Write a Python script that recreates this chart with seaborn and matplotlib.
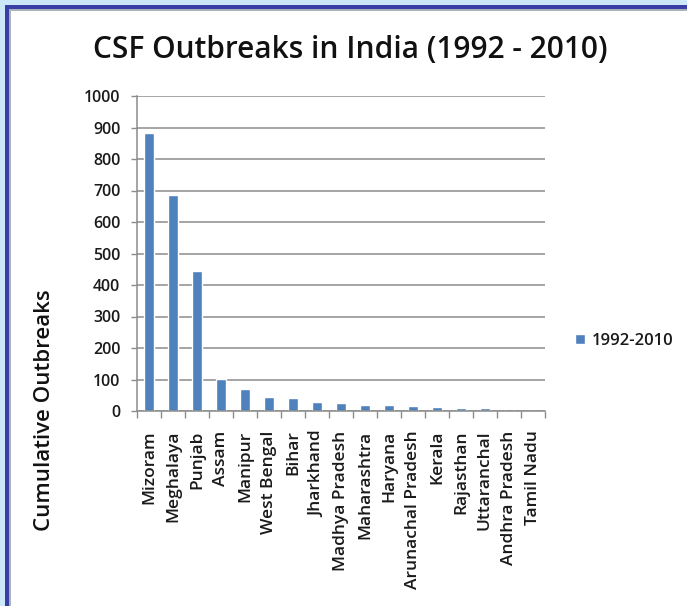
import matplotlib as mpl
mpl.use("Agg")
import matplotlib.pyplot as plt
import seaborn as sns
from matplotlib.patches import Rectangle
from matplotlib.ticker import FixedLocator

# Data
states = ["Mizoram", "Meghalaya", "Punjab", "Assam", "Manipur", "West Bengal",
          "Bihar", "Jharkhand", "Madhya Pradesh", "Maharashtra", "Haryana",
          "Arunachal Pradesh", "Kerala", "Rajasthan", "Uttaranchal",
          "Andhra Pradesh", "Tamil Nadu"]
outbreaks = [882, 687, 443, 101, 71, 43, 40, 29, 24, 18, 18, 17, 13, 8, 8, 5, 1]
series_name = "1992-2010"

BAR_COLOR = "#4f81bd"
GRID_COLOR = "#8c8c8c"
TEXT_COLOR = "#1a1a1a"

sns.set_theme(style="white")
plt.rcParams["font.family"] = ["Open Sans", "DejaVu Sans"]

W, H = 687, 606
fig = plt.figure(figsize=(W / 100, H / 100), dpi=100)
fig.patch.set_facecolor("#cde8f8")

# slide style frame: blue border, grey inner line, white panel
fig.add_artist(Rectangle((5 / W, 0), 1, 1 - 5 / H, transform=fig.transFigure,
                         facecolor="#3a3fa6", edgecolor="none", zorder=-3))
fig.add_artist(Rectangle((9 / W, 0), 1, 1 - 9 / H, transform=fig.transFigure,
                         facecolor="#a9b3b8", edgecolor="none", zorder=-2))
fig.add_artist(Rectangle((11 / W, 0), 1, 1 - 11 / H, transform=fig.transFigure,
                         facecolor="white", edgecolor="none", zorder=-1))

ax = fig.add_axes([137 / W, 1 - 411 / H, 408 / W, 315 / H])
ax.set_facecolor("none")

sns.barplot(x=states, y=outbreaks, color=BAR_COLOR, width=0.44, ax=ax,
            saturation=1, label=series_name)

ax.set_xlim(-0.5, len(states) - 0.5)
ax.set_ylim(0, 1000)
ax.set_yticks(range(0, 1001, 100))
ax.yaxis.grid(True, color=GRID_COLOR, linewidth=1.1)
ax.set_axisbelow(True)

for side in ["top", "right"]:
    ax.spines[side].set_visible(False)
for side in ["left", "bottom"]:
    ax.spines[side].set_color(GRID_COLOR)
    ax.spines[side].set_linewidth(1.1)

ax.tick_params(axis="y", which="major", left=True, length=4, width=1,
               color=GRID_COLOR, labelsize=11.5, labelcolor=TEXT_COLOR, pad=8)
ax.tick_params(axis="x", which="major", length=0, labelsize=12.5,
               labelcolor=TEXT_COLOR, labelrotation=90, pad=14)
for lab in ax.get_xticklabels() + ax.get_yticklabels():
    lab.set_fontweight("semibold")
ax.xaxis.set_minor_locator(FixedLocator([i - 0.5 for i in range(len(states) + 1)]))
ax.tick_params(axis="x", which="minor", bottom=True, length=5, width=1,
               color=GRID_COLOR)

ax.set_xlabel("")
ax.set_ylabel("")

fig.text(350 / W, 1 - 50 / H, "CSF Outbreaks in India (1992 - 2010)",
         ha="center", va="center", fontsize=21.5, fontweight="semibold",
         color="#111111")
fig.text(45 / W, 1 - 410 / H, "Cumulative Outbreaks", rotation=90,
         ha="center", va="center", fontsize=16, fontweight="semibold",
         color="#111111")

ax.legend(loc="center left", bbox_to_anchor=(575 / W, 1 - 341 / H),
          bbox_transform=fig.transFigure, frameon=False, borderpad=0,
          borderaxespad=0, prop={"size": 12, "weight": "semibold"},
          handlelength=0.6, handleheight=0.6, handletextpad=0.4,
          labelcolor=TEXT_COLOR)

fig.savefig("out.png", dpi=100)
